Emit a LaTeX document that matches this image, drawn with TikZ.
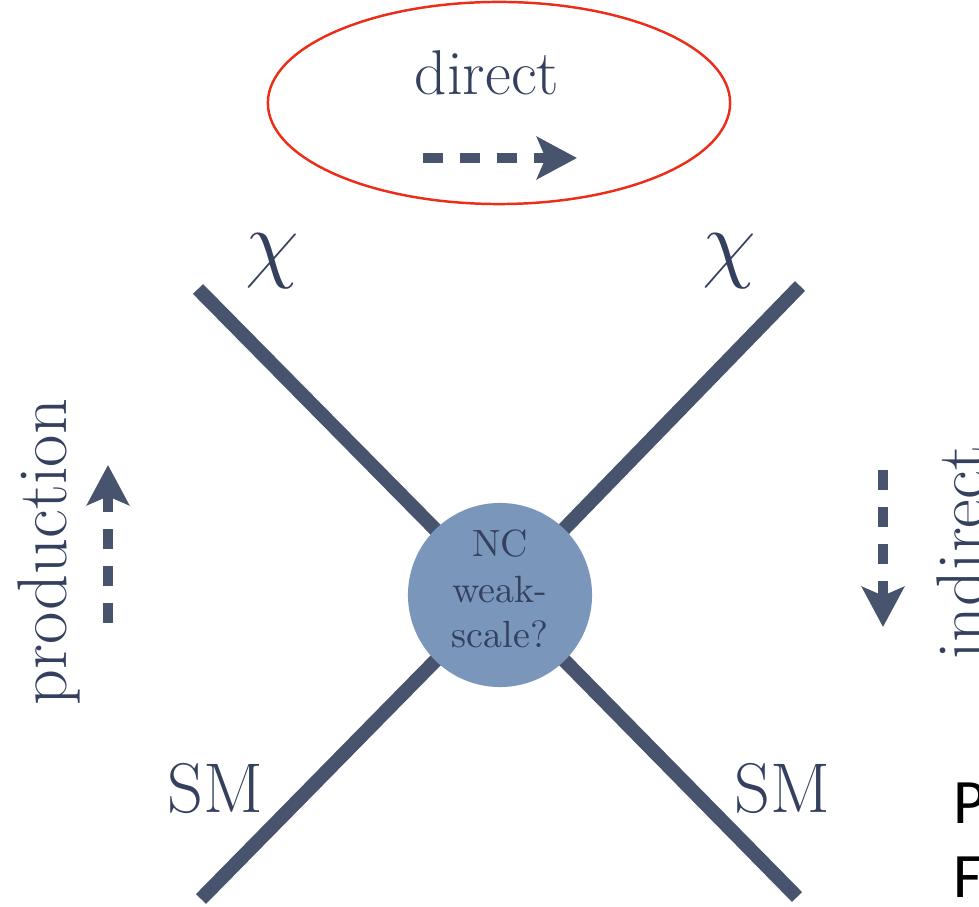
\documentclass[tikz,border=0pt]{standalone}
\usepackage{fontspec}
\newfontfamily\calibri{Carlito}
\usetikzlibrary{arrows.meta,shapes.geometric}
\definecolor{slate}{RGB}{72,84,110}
\definecolor{hubblue}{RGB}{122,150,186}
\definecolor{ink}{RGB}{52,64,94}
\definecolor{ringred}{RGB}{235,45,25}

\begin{document}
\begin{tikzpicture}[x=0.01cm,y=-0.01cm,line join=round,
  leg/.style={slate,line width=4pt},
  flow/.style={-{Stealth[length=11.4pt,width=12pt,inset=2.5pt]},slate,line width=3pt,dash pattern=on 5.6pt off 4.9pt},
  lbl/.style={text=ink,inner sep=0pt,anchor=base,font=\fontsize{20}{20}\selectfont},
  hub/.style={circle,fill=hubblue,inner sep=0pt,minimum size=1.84cm,text=ink,align=center,font=\fontsize{10.8}{13}\selectfont}]
\useasboundingbox (0,0) rectangle (979,907);
\node[ellipse,draw=ringred,line width=0.7pt,minimum width=4.62cm,minimum height=2.02cm] (ring) at (499,103) {};
\node[lbl,font=\fontsize{18}{18}\selectfont] (direct) at (487,95) {direct};
\coordinate (dirA) at (423,158);
\coordinate (dirB) at (577,158);
\draw[flow] (dirA) -- (dirB);
\coordinate (mid) at (500,595);
\coordinate (chiL) at (198,289);
\coordinate (chiR) at (800,286);
\coordinate (smL) at (201,899);
\coordinate (smR) at (797,897);
\draw[leg] (chiL) -- (mid);
\draw[leg] (chiR) -- (mid);
\draw[leg] (smL) -- (mid);
\draw[leg] (smR) -- (mid);
\node[hub] (core) at (mid) {NC\\weak-\\scale?\rule[-3.6pt]{0pt}{3.6pt}};
\node[lbl,anchor=center,font=\fontsize{25}{25}\selectfont] (chiLtxt) at (272,261) {$\chi$};
\node[lbl,anchor=center,font=\fontsize{25}{25}\selectfont] (chiRtxt) at (729,261) {$\chi$};
\node[lbl] (smLtxt) at (215,812) {SM};
\node[lbl] (smRtxt) at (782,812) {SM};
\node[lbl,rotate=90] (prod) at (67,552) {production};
\node[lbl,rotate=90] (indir) at (985,553) {indirect};
\coordinate (prodA) at (108,623);
\coordinate (prodB) at (108,465);
\draw[flow] (prodA) -- (prodB);
\coordinate (indA) at (883,470);
\coordinate (indB) at (883,627);
\draw[flow] (indA) -- (indB);
\node[anchor=base west,inner sep=0pt,font=\calibri\fontsize{18}{18}\selectfont] (noteP) at (953,823) {P};
\node[anchor=base west,inner sep=0pt,font=\calibri\fontsize{18}{18}\selectfont] (noteF) at (953,897) {F};
\end{tikzpicture}
\end{document}
